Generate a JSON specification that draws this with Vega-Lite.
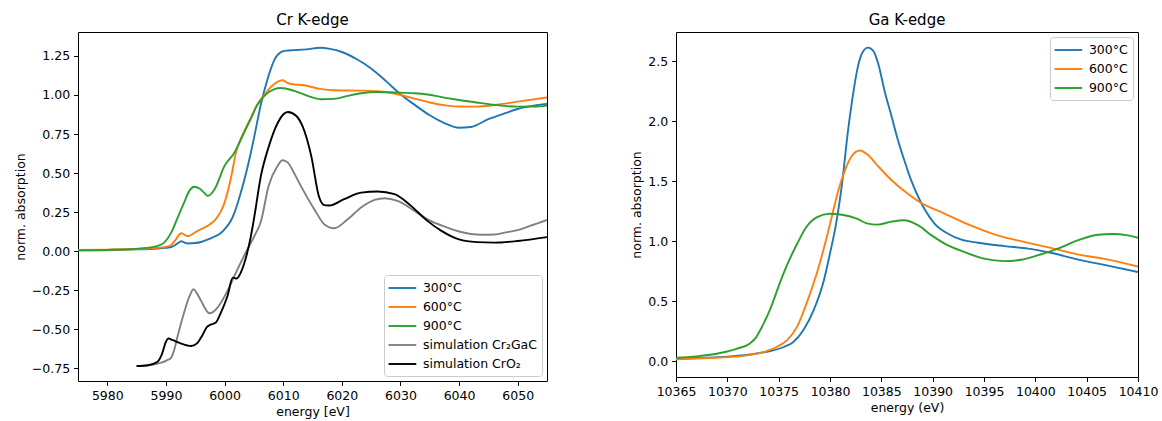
{
  "$schema": "https://vega.github.io/schema/vega-lite/v6.json",
  "padding": {"left": 13, "top": 12, "right": 0, "bottom": 0},
  "bounds": "flush",
  "spacing": 129,
  "background": "white",
  "config": {
    "font": "DejaVu Sans",
    "view": {"stroke": "black", "strokeWidth": 1},
    "title": {"font": "DejaVu Sans", "fontSize": 15, "fontWeight": "normal", "color": "black", "offset": 4, "anchor": "middle"},
    "axis": {
      "domain": false, "grid": false, "ticks": true, "tickSize": 4.4, "tickColor": "black", "tickWidth": 1,
      "labelFont": "DejaVu Sans", "labelFontSize": 12.5, "labelColor": "black", "labelPadding": 4, "labelFlush": false, "labelOverlap": false,
      "titleFont": "DejaVu Sans", "titleFontSize": 12.5, "titleFontWeight": "normal", "titleColor": "black", "titlePadding": 4
    },
    "legend": {
      "title": null, "offset": 5, "padding": 5, "rowPadding": 4,
      "symbolType": "M-2,0H2", "symbolSize": 192, "symbolStrokeWidth": 1.9, "symbolOffset": 5.4, "labelOffset": 12.5,
      "labelFont": "DejaVu Sans", "labelFontSize": 12.5, "labelColor": "black",
      "strokeColor": "#cccccc", "fillColor": "rgba(255,255,255,0.8)", "cornerRadius": 3
    }
  },
  "hconcat": [
    {
      "title": "Cr K-edge",
      "width": 469,
      "height": 349,
      "data": {"values": [
        {"s":"300°C","e":5975,"v":0.005},{"s":"300°C","e":5980,"v":0.008},{"s":"300°C","e":5985,"v":0.012},{"s":"300°C","e":5988,"v":0.016},{"s":"300°C","e":5990,"v":0.021},{"s":"300°C","e":5991,"v":0.028},{"s":"300°C","e":5992,"v":0.05},{"s":"300°C","e":5992.6,"v":0.064},{"s":"300°C","e":5993.2,"v":0.055},{"s":"300°C","e":5993.7,"v":0.049},{"s":"300°C","e":5995,"v":0.052},{"s":"300°C","e":5996,"v":0.059},{"s":"300°C","e":5997.2,"v":0.075},{"s":"300°C","e":5998.3,"v":0.094},{"s":"300°C","e":5999.2,"v":0.112},{"s":"300°C","e":6000,"v":0.14},{"s":"300°C","e":6001,"v":0.19},{"s":"300°C","e":6001.7,"v":0.247},{"s":"300°C","e":6002.5,"v":0.34},{"s":"300°C","e":6003.4,"v":0.46},{"s":"300°C","e":6004.3,"v":0.6},{"s":"300°C","e":6005.1,"v":0.74},{"s":"300°C","e":6006.2,"v":0.94},{"s":"300°C","e":6007.4,"v":1.11},{"s":"300°C","e":6008.5,"v":1.225},{"s":"300°C","e":6009.6,"v":1.274},{"s":"300°C","e":6010.5,"v":1.284},{"s":"300°C","e":6012,"v":1.287},{"s":"300°C","e":6014,"v":1.292},{"s":"300°C","e":6016.3,"v":1.302},{"s":"300°C","e":6018,"v":1.295},{"s":"300°C","e":6020,"v":1.275},{"s":"300°C","e":6022.5,"v":1.23},{"s":"300°C","e":6025,"v":1.17},{"s":"300°C","e":6027.5,"v":1.09},{"s":"300°C","e":6030,"v":1.005},{"s":"300°C","e":6032.5,"v":0.935},{"s":"300°C","e":6035,"v":0.87},{"s":"300°C","e":6037.5,"v":0.82},{"s":"300°C","e":6040,"v":0.79},{"s":"300°C","e":6042,"v":0.795},{"s":"300°C","e":6045,"v":0.845},{"s":"300°C","e":6048,"v":0.885},{"s":"300°C","e":6050,"v":0.91},{"s":"300°C","e":6052.5,"v":0.93},{"s":"300°C","e":6055,"v":0.943},
        {"s":"600°C","e":5975,"v":0.008},{"s":"600°C","e":5980,"v":0.01},{"s":"600°C","e":5985,"v":0.014},{"s":"600°C","e":5988,"v":0.02},{"s":"600°C","e":5990,"v":0.028},{"s":"600°C","e":5990.9,"v":0.04},{"s":"600°C","e":5991.7,"v":0.076},{"s":"600°C","e":5992.6,"v":0.115},{"s":"600°C","e":5993.7,"v":0.096},{"s":"600°C","e":5995.4,"v":0.13},{"s":"600°C","e":5997.1,"v":0.162},{"s":"600°C","e":5998.5,"v":0.205},{"s":"600°C","e":5999.3,"v":0.25},{"s":"600°C","e":6000,"v":0.311},{"s":"600°C","e":6001.1,"v":0.47},{"s":"600°C","e":6002,"v":0.64},{"s":"600°C","e":6002.6,"v":0.705},{"s":"600°C","e":6003.4,"v":0.77},{"s":"600°C","e":6004.5,"v":0.855},{"s":"600°C","e":6005.6,"v":0.94},{"s":"600°C","e":6006.8,"v":1.0},{"s":"600°C","e":6008,"v":1.055},{"s":"600°C","e":6009,"v":1.084},{"s":"600°C","e":6009.9,"v":1.094},{"s":"600°C","e":6010.6,"v":1.08},{"s":"600°C","e":6011.3,"v":1.07},{"s":"600°C","e":6013.6,"v":1.062},{"s":"600°C","e":6016.5,"v":1.037},{"s":"600°C","e":6018.7,"v":1.03},{"s":"600°C","e":6023.3,"v":1.028},{"s":"600°C","e":6026.1,"v":1.024},{"s":"600°C","e":6028,"v":1.015},{"s":"600°C","e":6030,"v":1.0},{"s":"600°C","e":6032.4,"v":0.977},{"s":"600°C","e":6035,"v":0.952},{"s":"600°C","e":6038,"v":0.932},{"s":"600°C","e":6040,"v":0.926},{"s":"600°C","e":6043,"v":0.925},{"s":"600°C","e":6046,"v":0.935},{"s":"600°C","e":6050,"v":0.957},{"s":"600°C","e":6055,"v":0.984},
        {"s":"900°C","e":5975,"v":0.005},{"s":"900°C","e":5980,"v":0.008},{"s":"900°C","e":5985,"v":0.015},{"s":"900°C","e":5988.6,"v":0.034},{"s":"900°C","e":5989.7,"v":0.055},{"s":"900°C","e":5990.9,"v":0.119},{"s":"900°C","e":5992,"v":0.215},{"s":"900°C","e":5993.1,"v":0.311},{"s":"900°C","e":5994,"v":0.386},{"s":"900°C","e":5994.85,"v":0.412},{"s":"900°C","e":5995.7,"v":0.401},{"s":"900°C","e":5996.5,"v":0.375},{"s":"900°C","e":5997.1,"v":0.354},{"s":"900°C","e":5998.3,"v":0.397},{"s":"900°C","e":6000,"v":0.546},{"s":"900°C","e":6001.7,"v":0.632},{"s":"900°C","e":6002.6,"v":0.7},{"s":"900°C","e":6003.4,"v":0.765},{"s":"900°C","e":6004.5,"v":0.85},{"s":"900°C","e":6005.5,"v":0.93},{"s":"900°C","e":6006.8,"v":0.994},{"s":"900°C","e":6008.5,"v":1.037},{"s":"900°C","e":6009.6,"v":1.045},{"s":"900°C","e":6011.9,"v":1.026},{"s":"900°C","e":6014.2,"v":0.994},{"s":"900°C","e":6016.5,"v":0.973},{"s":"900°C","e":6018.7,"v":0.975},{"s":"900°C","e":6021,"v":0.994},{"s":"900°C","e":6023.3,"v":1.011},{"s":"900°C","e":6026.1,"v":1.019},{"s":"900°C","e":6029,"v":1.016},{"s":"900°C","e":6032.4,"v":1.011},{"s":"900°C","e":6034.6,"v":1.003},{"s":"900°C","e":6038,"v":0.98},{"s":"900°C","e":6040,"v":0.968},{"s":"900°C","e":6043,"v":0.952},{"s":"900°C","e":6046,"v":0.937},{"s":"900°C","e":6050,"v":0.925},{"s":"900°C","e":6053,"v":0.926},{"s":"900°C","e":6055,"v":0.932},
        {"s":"simulation Cr₂GaC","e":5985,"v":-0.735},{"s":"simulation Cr₂GaC","e":5987,"v":-0.73},{"s":"simulation Cr₂GaC","e":5989.2,"v":-0.713},{"s":"simulation Cr₂GaC","e":5990.1,"v":-0.7},{"s":"simulation Cr₂GaC","e":5990.9,"v":-0.681},{"s":"simulation Cr₂GaC","e":5991.5,"v":-0.62},{"s":"simulation Cr₂GaC","e":5992,"v":-0.543},{"s":"simulation Cr₂GaC","e":5993.1,"v":-0.393},{"s":"simulation Cr₂GaC","e":5994,"v":-0.29},{"s":"simulation Cr₂GaC","e":5994.7,"v":-0.244},{"s":"simulation Cr₂GaC","e":5995.3,"v":-0.27},{"s":"simulation Cr₂GaC","e":5996,"v":-0.318},{"s":"simulation Cr₂GaC","e":5997.4,"v":-0.397},{"s":"simulation Cr₂GaC","e":5998,"v":-0.39},{"s":"simulation Cr₂GaC","e":5998.8,"v":-0.361},{"s":"simulation Cr₂GaC","e":6000.5,"v":-0.254},{"s":"simulation Cr₂GaC","e":6002.2,"v":-0.116},{"s":"simulation Cr₂GaC","e":6003.9,"v":0.012},{"s":"simulation Cr₂GaC","e":6005.2,"v":0.105},{"s":"simulation Cr₂GaC","e":6006.2,"v":0.19},{"s":"simulation Cr₂GaC","e":6007.5,"v":0.415},{"s":"simulation Cr₂GaC","e":6009,"v":0.543},{"s":"simulation Cr₂GaC","e":6009.9,"v":0.582},{"s":"simulation Cr₂GaC","e":6010.8,"v":0.567},{"s":"simulation Cr₂GaC","e":6012,"v":0.49},{"s":"simulation Cr₂GaC","e":6013,"v":0.418},{"s":"simulation Cr₂GaC","e":6015.3,"v":0.269},{"s":"simulation Cr₂GaC","e":6017,"v":0.173},{"s":"simulation Cr₂GaC","e":6018.7,"v":0.147},{"s":"simulation Cr₂GaC","e":6021,"v":0.204},{"s":"simulation Cr₂GaC","e":6023.3,"v":0.28},{"s":"simulation Cr₂GaC","e":6025.6,"v":0.328},{"s":"simulation Cr₂GaC","e":6027.3,"v":0.339},{"s":"simulation Cr₂GaC","e":6029.5,"v":0.322},{"s":"simulation Cr₂GaC","e":6032.4,"v":0.258},{"s":"simulation Cr₂GaC","e":6034.6,"v":0.204},{"s":"simulation Cr₂GaC","e":6037,"v":0.165},{"s":"simulation Cr₂GaC","e":6040,"v":0.126},{"s":"simulation Cr₂GaC","e":6042,"v":0.11},{"s":"simulation Cr₂GaC","e":6044,"v":0.105},{"s":"simulation Cr₂GaC","e":6046,"v":0.107},{"s":"simulation Cr₂GaC","e":6048,"v":0.12},{"s":"simulation Cr₂GaC","e":6050,"v":0.135},{"s":"simulation Cr₂GaC","e":6052,"v":0.16},{"s":"simulation Cr₂GaC","e":6055,"v":0.2},
        {"s":"simulation CrO₂","e":5985,"v":-0.735},{"s":"simulation CrO₂","e":5987,"v":-0.73},{"s":"simulation CrO₂","e":5988.5,"v":-0.71},{"s":"simulation CrO₂","e":5989.3,"v":-0.66},{"s":"simulation CrO₂","e":5990,"v":-0.58},{"s":"simulation CrO₂","e":5990.4,"v":-0.559},{"s":"simulation CrO₂","e":5991.2,"v":-0.57},{"s":"simulation CrO₂","e":5992.5,"v":-0.59},{"s":"simulation CrO₂","e":5994.3,"v":-0.607},{"s":"simulation CrO₂","e":5995.3,"v":-0.59},{"s":"simulation CrO₂","e":5996.2,"v":-0.54},{"s":"simulation CrO₂","e":5997,"v":-0.485},{"s":"simulation CrO₂","e":5997.4,"v":-0.474},{"s":"simulation CrO₂","e":5998.5,"v":-0.457},{"s":"simulation CrO₂","e":5999.3,"v":-0.4},{"s":"simulation CrO₂","e":6000.5,"v":-0.287},{"s":"simulation CrO₂","e":6001.4,"v":-0.169},{"s":"simulation CrO₂","e":6002.1,"v":-0.175},{"s":"simulation CrO₂","e":6002.6,"v":-0.15},{"s":"simulation CrO₂","e":6003.4,"v":-0.073},{"s":"simulation CrO₂","e":6004.5,"v":0.098},{"s":"simulation CrO₂","e":6005.1,"v":0.226},{"s":"simulation CrO₂","e":6006.2,"v":0.482},{"s":"simulation CrO₂","e":6007.4,"v":0.653},{"s":"simulation CrO₂","e":6009.1,"v":0.824},{"s":"simulation CrO₂","e":6010,"v":0.875},{"s":"simulation CrO₂","e":6010.8,"v":0.891},{"s":"simulation CrO₂","e":6012.2,"v":0.867},{"s":"simulation CrO₂","e":6013.3,"v":0.8},{"s":"simulation CrO₂","e":6014.8,"v":0.607},{"s":"simulation CrO₂","e":6016.1,"v":0.35},{"s":"simulation CrO₂","e":6017,"v":0.295},{"s":"simulation CrO₂","e":6017.8,"v":0.292},{"s":"simulation CrO₂","e":6020.4,"v":0.333},{"s":"simulation CrO₂","e":6023.3,"v":0.375},{"s":"simulation CrO₂","e":6026.1,"v":0.382},{"s":"simulation CrO₂","e":6029,"v":0.365},{"s":"simulation CrO₂","e":6031.8,"v":0.29},{"s":"simulation CrO₂","e":6034.6,"v":0.194},{"s":"simulation CrO₂","e":6037,"v":0.13},{"s":"simulation CrO₂","e":6040,"v":0.075},{"s":"simulation CrO₂","e":6043,"v":0.058},{"s":"simulation CrO₂","e":6046,"v":0.055},{"s":"simulation CrO₂","e":6050,"v":0.065},{"s":"simulation CrO₂","e":6055,"v":0.09}
      ]},
      "mark": {"type": "line", "strokeWidth": 1.9, "interpolate": "monotone", "clip": true},
      "encoding": {
        "x": {"field": "e", "type": "quantitative", "title": "energy [eV]",
              "scale": {"domain": [5975, 6055], "nice": false, "zero": false},
              "axis": {"values": [5980, 5990, 6000, 6010, 6020, 6030, 6040, 6050], "format": "d"}},
        "y": {"field": "v", "type": "quantitative", "title": "norm. absorption",
              "scale": {"domain": [-0.831, 1.403], "nice": false, "zero": false},
              "axis": {"values": [-0.75, -0.5, -0.25, 0, 0.25, 0.5, 0.75, 1, 1.25], "format": ".2f"}},
        "color": {"field": "s", "type": "nominal",
                  "scale": {"domain": ["300°C", "600°C", "900°C", "simulation Cr₂GaC", "simulation CrO₂"],
                            "range": ["#1f77b4", "#ff7f0e", "#2ca02c", "#808080", "#000000"]},
                  "legend": {"orient": "bottom-right"}}
      }
    },
    {
      "title": "Ga K-edge",
      "width": 462,
      "height": 345,
      "data": {"values": [
        {"s":"300°C","e":10365,"v":0.02},{"s":"300°C","e":10367,"v":0.028},{"s":"300°C","e":10370,"v":0.04},{"s":"300°C","e":10372,"v":0.055},{"s":"300°C","e":10373,"v":0.068},{"s":"300°C","e":10374.2,"v":0.086},{"s":"300°C","e":10375.5,"v":0.12},{"s":"300°C","e":10376.4,"v":0.16},{"s":"300°C","e":10377.4,"v":0.26},{"s":"300°C","e":10378.4,"v":0.425},{"s":"300°C","e":10379.4,"v":0.675},{"s":"300°C","e":10380,"v":0.9},{"s":"300°C","e":10380.6,"v":1.15},{"s":"300°C","e":10381.2,"v":1.5},{"s":"300°C","e":10381.75,"v":1.92},{"s":"300°C","e":10382.2,"v":2.2},{"s":"300°C","e":10382.7,"v":2.45},{"s":"300°C","e":10383.2,"v":2.58},{"s":"300°C","e":10383.7,"v":2.615},{"s":"300°C","e":10384.2,"v":2.59},{"s":"300°C","e":10384.7,"v":2.48},{"s":"300°C","e":10385.3,"v":2.26},{"s":"300°C","e":10386,"v":2.04},{"s":"300°C","e":10386.6,"v":1.85},{"s":"300°C","e":10387.3,"v":1.66},{"s":"300°C","e":10387.9,"v":1.51},{"s":"300°C","e":10388.6,"v":1.37},{"s":"300°C","e":10389.2,"v":1.27},{"s":"300°C","e":10390.2,"v":1.147},{"s":"300°C","e":10391.5,"v":1.064},{"s":"300°C","e":10392.8,"v":1.014},{"s":"300°C","e":10394.4,"v":0.989},{"s":"300°C","e":10397,"v":0.961},{"s":"300°C","e":10399.3,"v":0.94},{"s":"300°C","e":10401.6,"v":0.903},{"s":"300°C","e":10404.1,"v":0.85},{"s":"300°C","e":10406.6,"v":0.806},{"s":"300°C","e":10410,"v":0.745},
        {"s":"600°C","e":10365,"v":0.017},{"s":"600°C","e":10368,"v":0.028},{"s":"600°C","e":10370.9,"v":0.04},{"s":"600°C","e":10372.5,"v":0.058},{"s":"600°C","e":10373.5,"v":0.078},{"s":"600°C","e":10374.8,"v":0.12},{"s":"600°C","e":10375.8,"v":0.175},{"s":"600°C","e":10376.8,"v":0.29},{"s":"600°C","e":10377.7,"v":0.48},{"s":"600°C","e":10378.7,"v":0.73},{"s":"600°C","e":10379.7,"v":1.04},{"s":"600°C","e":10380.3,"v":1.25},{"s":"600°C","e":10380.8,"v":1.42},{"s":"600°C","e":10381.4,"v":1.58},{"s":"600°C","e":10382.1,"v":1.71},{"s":"600°C","e":10382.9,"v":1.758},{"s":"600°C","e":10383.7,"v":1.72},{"s":"600°C","e":10384.7,"v":1.625},{"s":"600°C","e":10386,"v":1.51},{"s":"600°C","e":10387.3,"v":1.415},{"s":"600°C","e":10388.6,"v":1.335},{"s":"600°C","e":10391.2,"v":1.23},{"s":"600°C","e":10393.7,"v":1.133},{"s":"600°C","e":10396.3,"v":1.05},{"s":"600°C","e":10399,"v":0.994},{"s":"600°C","e":10401.6,"v":0.944},{"s":"600°C","e":10404.1,"v":0.892},{"s":"600°C","e":10406.6,"v":0.856},{"s":"600°C","e":10410,"v":0.79},
        {"s":"900°C","e":10365,"v":0.03},{"s":"900°C","e":10367,"v":0.042},{"s":"900°C","e":10369.3,"v":0.07},{"s":"900°C","e":10370.9,"v":0.105},{"s":"900°C","e":10372.2,"v":0.15},{"s":"900°C","e":10372.8,"v":0.2},{"s":"900°C","e":10373.2,"v":0.26},{"s":"900°C","e":10374.2,"v":0.44},{"s":"900°C","e":10375.1,"v":0.65},{"s":"900°C","e":10375.8,"v":0.8},{"s":"900°C","e":10376.8,"v":0.98},{"s":"900°C","e":10377.7,"v":1.12},{"s":"900°C","e":10378.7,"v":1.2},{"s":"900°C","e":10380,"v":1.23},{"s":"900°C","e":10381.3,"v":1.22},{"s":"900°C","e":10382.6,"v":1.19},{"s":"900°C","e":10383.6,"v":1.15},{"s":"900°C","e":10384.6,"v":1.14},{"s":"900°C","e":10386,"v":1.165},{"s":"900°C","e":10387.2,"v":1.176},{"s":"900°C","e":10388.6,"v":1.133},{"s":"900°C","e":10389.9,"v":1.05},{"s":"900°C","e":10391.2,"v":0.98},{"s":"900°C","e":10393.1,"v":0.911},{"s":"900°C","e":10395,"v":0.856},{"s":"900°C","e":10397,"v":0.836},{"s":"900°C","e":10398.6,"v":0.847},{"s":"900°C","e":10400.2,"v":0.883},{"s":"900°C","e":10402.2,"v":0.94},{"s":"900°C","e":10404.1,"v":1.008},{"s":"900°C","e":10406.1,"v":1.056},{"s":"900°C","e":10407.5,"v":1.062},{"s":"900°C","e":10409,"v":1.05},{"s":"900°C","e":10410,"v":1.03}
      ]},
      "mark": {"type": "line", "strokeWidth": 1.9, "interpolate": "monotone", "clip": true},
      "encoding": {
        "x": {"field": "e", "type": "quantitative", "title": "energy (eV)",
              "scale": {"domain": [10365, 10410], "nice": false, "zero": false},
              "axis": {"values": [10365, 10370, 10375, 10380, 10385, 10390, 10395, 10400, 10405, 10410], "format": "d"}},
        "y": {"field": "v", "type": "quantitative", "title": "norm. absorption",
              "scale": {"domain": [-0.13, 2.745], "nice": false, "zero": false},
              "axis": {"values": [0, 0.5, 1, 1.5, 2, 2.5], "format": ".1f"}},
        "color": {"field": "s", "type": "nominal",
                  "scale": {"domain": ["300°C", "600°C", "900°C"],
                            "range": ["#1f77b4", "#ff7f0e", "#2ca02c"]},
                  "legend": {"orient": "top-right"}}
      }
    }
  ],
  "resolve": {"scale": {"color": "independent"}, "legend": {"color": "independent"}}
}
